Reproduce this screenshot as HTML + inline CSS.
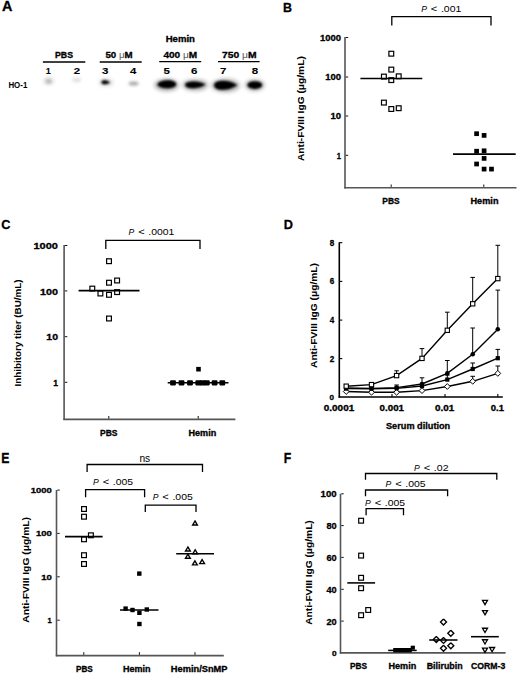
<!DOCTYPE html>
<html><head><meta charset="utf-8"><style>
html,body{margin:0;padding:0;background:#fff;}
body{width:520px;height:675px;overflow:hidden;}
svg{display:block;}
text{font-family:"Liberation Sans",sans-serif;}
</style></head><body>
<svg width="520" height="675" viewBox="0 0 520 675">
<rect width="520" height="675" fill="#fff"/>

<defs>
<filter id="b1" x="-100%" y="-150%" width="300%" height="400%"><feGaussianBlur stdDeviation="1.5"/></filter>
<filter id="b2" x="-50%" y="-80%" width="200%" height="260%"><feGaussianBlur stdDeviation="0.85"/></filter>
<filter id="b3" x="-100%" y="-150%" width="300%" height="400%"><feGaussianBlur stdDeviation="2.2"/></filter>
</defs>
<g>
<ellipse cx="48.6" cy="81.0" rx="4.4" ry="2.8" fill="#c0c0c0" filter="url(#b3)"/>
<ellipse cx="48.8" cy="81.6" rx="2.5" ry="1.5" fill="#b0b0b0" filter="url(#b1)"/>
<ellipse cx="76.6" cy="80.0" rx="4.5" ry="2.4" fill="#e2e2e2" filter="url(#b1)"/>
<ellipse cx="106.0" cy="82.3" rx="6.5" ry="3.0" fill="#999" opacity="0.6" filter="url(#b3)"/>
<path d="M101.4,82.2 C101.6,80.6 103.5,80.2 105,80.3 C107,80.5 108.5,81.5 110,82.4 C108.5,83.3 107,84.1 105,84.2 C103.3,84.2 101.3,83.7 101.4,82.2 Z" fill="#000" filter="url(#b2)"/>
<ellipse cx="133.6" cy="83.6" rx="5.0" ry="2.0" fill="#a8a8a8" filter="url(#b1)"/>
<g filter="url(#b3)" opacity="0.35">
<ellipse cx="166.6" cy="85" rx="12" ry="6" fill="#000"/>
<ellipse cx="195.2" cy="85" rx="12.5" ry="5.5" fill="#000"/>
<ellipse cx="225.6" cy="85.5" rx="14" ry="6.5" fill="#000"/>
<ellipse cx="254.8" cy="85.2" rx="9.5" ry="5.5" fill="#000"/>
</g>
<g filter="url(#b2)">
<path d="M157.2,84.6 C158.6,81.4 163.5,80.3 168,80.3 C173,80.3 176.2,82.2 176.2,84.3 C176.2,86.7 172.5,88.3 167,88.3 C162,88.3 158.6,87.2 157.2,84.6 Z" fill="#000"/>
<path d="M185.2,84.8 C185.2,82.3 189,81.4 194,81.4 C199,81.6 203,83 205.6,84.6 C203,86.4 199,88.1 194,88.3 C189,88.4 185.2,87.3 185.2,84.8 Z" fill="#000"/>
<path d="M214.2,85.2 C214.2,81.6 219,80.6 224,80.7 C230,81.0 234.5,83.2 237.3,85.0 C234.5,86.8 230,89.4 224,89.8 C219,90.1 214.2,88.8 214.2,85.2 Z" fill="#000"/>
<ellipse cx="254.8" cy="85.1" rx="7.4" ry="3.9" fill="#000"/>
</g>
</g>

<text x="2.10" y="11.20" font-size="13.81" font-weight="bold" fill="#000" stroke="#000" stroke-width="0.3" textLength="10.40" lengthAdjust="spacingAndGlyphs">A</text>
<text x="283.00" y="11.50" font-size="13.52" font-weight="bold" fill="#000" stroke="#000" stroke-width="0.3" textLength="9.00" lengthAdjust="spacingAndGlyphs">B</text>
<text x="1.30" y="228.80" font-size="13.52" font-weight="bold" fill="#000" stroke="#000" stroke-width="0.3" textLength="9.20" lengthAdjust="spacingAndGlyphs">C</text>
<text x="283.80" y="229.30" font-size="13.52" font-weight="bold" fill="#000" stroke="#000" stroke-width="0.3" textLength="9.20" lengthAdjust="spacingAndGlyphs">D</text>
<text x="1.30" y="463.30" font-size="13.81" font-weight="bold" fill="#000" stroke="#000" stroke-width="0.3" textLength="8.20" lengthAdjust="spacingAndGlyphs">E</text>
<text x="283.80" y="462.50" font-size="14.53" font-weight="bold" fill="#000" stroke="#000" stroke-width="0.3" textLength="7.50" lengthAdjust="spacingAndGlyphs">F</text>
<text x="165.70" y="42.00" font-size="8.14" font-weight="bold" fill="#000" stroke="#000" stroke-width="0.3" textLength="29.30" lengthAdjust="spacingAndGlyphs">Hemin</text>
<text x="55.00" y="58.00" font-size="8.72" font-weight="bold" fill="#000" stroke="#000" stroke-width="0.3" textLength="18.00" lengthAdjust="spacingAndGlyphs">PBS</text>
<text x="105.40" y="58.00" font-size="8.72" font-weight="bold" fill="#000" stroke="#000" stroke-width="0.3" textLength="27.20" lengthAdjust="spacingAndGlyphs">50 <tspan font-weight='normal' stroke-width='0' fill='#555'>&#956;</tspan>M</text>
<text x="163.40" y="58.20" font-size="8.72" font-weight="bold" fill="#000" stroke="#000" stroke-width="0.3" textLength="33.90" lengthAdjust="spacingAndGlyphs">400 <tspan font-weight='normal' stroke-width='0' fill='#555'>&#956;</tspan>M</text>
<text x="222.00" y="58.00" font-size="8.72" font-weight="bold" fill="#000" stroke="#000" stroke-width="0.3" textLength="34.60" lengthAdjust="spacingAndGlyphs">750 <tspan font-weight='normal' stroke-width='0' fill='#555'>&#956;</tspan>M</text>
<line x1="42.90" y1="62.00" x2="85.30" y2="62.00" stroke="#000" stroke-width="1.3"/>
<line x1="99.70" y1="62.00" x2="141.70" y2="62.00" stroke="#000" stroke-width="1.3"/>
<line x1="159.20" y1="61.70" x2="201.20" y2="61.70" stroke="#000" stroke-width="1.3"/>
<line x1="218.00" y1="61.70" x2="259.60" y2="61.70" stroke="#000" stroke-width="1.3"/>
<text x="45.75" y="74.40" font-size="9.01" font-weight="bold" fill="#000" stroke="#000" stroke-width="0.1" textLength="5.10" lengthAdjust="spacingAndGlyphs">1</text>
<text x="73.80" y="74.40" font-size="9.01" font-weight="bold" fill="#000" stroke="#000" stroke-width="0.1" textLength="6.40" lengthAdjust="spacingAndGlyphs">2</text>
<text x="102.00" y="74.40" font-size="9.01" font-weight="bold" fill="#000" stroke="#000" stroke-width="0.1" textLength="6.40" lengthAdjust="spacingAndGlyphs">3</text>
<text x="129.90" y="74.40" font-size="9.01" font-weight="bold" fill="#000" stroke="#000" stroke-width="0.1" textLength="6.40" lengthAdjust="spacingAndGlyphs">4</text>
<text x="163.40" y="74.40" font-size="9.01" font-weight="bold" fill="#000" stroke="#000" stroke-width="0.1" textLength="6.40" lengthAdjust="spacingAndGlyphs">5</text>
<text x="191.10" y="74.40" font-size="9.01" font-weight="bold" fill="#000" stroke="#000" stroke-width="0.1" textLength="6.40" lengthAdjust="spacingAndGlyphs">6</text>
<text x="220.00" y="74.40" font-size="9.01" font-weight="bold" fill="#000" stroke="#000" stroke-width="0.1" textLength="6.40" lengthAdjust="spacingAndGlyphs">7</text>
<text x="251.80" y="74.40" font-size="9.01" font-weight="bold" fill="#000" stroke="#000" stroke-width="0.1" textLength="6.40" lengthAdjust="spacingAndGlyphs">8</text>
<text x="8.40" y="87.60" font-size="8.58" font-weight="bold" fill="#000" stroke="#000" stroke-width="0.01" textLength="18.90" lengthAdjust="spacingAndGlyphs">HO-1</text>
<line x1="345.00" y1="37.00" x2="345.00" y2="188.40" stroke="#555" stroke-width="1.6"/>
<line x1="344.30" y1="187.70" x2="516.50" y2="187.70" stroke="#555" stroke-width="1.6"/>
<line x1="345.80" y1="37.50" x2="348.20" y2="37.50" stroke="#111" stroke-width="1.0"/>
<line x1="345.80" y1="77.00" x2="348.20" y2="77.00" stroke="#111" stroke-width="1.0"/>
<line x1="345.80" y1="116.00" x2="348.20" y2="116.00" stroke="#111" stroke-width="1.0"/>
<line x1="345.80" y1="155.30" x2="348.20" y2="155.30" stroke="#111" stroke-width="1.0"/>
<text x="320.00" y="40.80" font-size="8.14" font-weight="bold" fill="#000" stroke="#000" stroke-width="0.3" textLength="21.00" lengthAdjust="spacingAndGlyphs">1000</text>
<text x="325.20" y="80.30" font-size="8.14" font-weight="bold" fill="#000" stroke="#000" stroke-width="0.3" textLength="15.80" lengthAdjust="spacingAndGlyphs">100</text>
<text x="330.40" y="119.30" font-size="8.14" font-weight="bold" fill="#000" stroke="#000" stroke-width="0.3" textLength="10.60" lengthAdjust="spacingAndGlyphs">10</text>
<text x="336.80" y="158.60" font-size="8.14" font-weight="bold" fill="#000" stroke="#000" stroke-width="0.3" textLength="4.20" lengthAdjust="spacingAndGlyphs">1</text>
<line x1="391.20" y1="186.90" x2="391.20" y2="184.50" stroke="#111" stroke-width="1.0"/>
<line x1="483.80" y1="186.90" x2="483.80" y2="184.50" stroke="#111" stroke-width="1.0"/>
<text x="382.35" y="203.60" font-size="8.58" font-weight="bold" fill="#000" stroke="#000" stroke-width="0.3" textLength="17.30" lengthAdjust="spacingAndGlyphs">PBS</text>
<text x="470.50" y="203.60" font-size="8.58" font-weight="bold" fill="#000" stroke="#000" stroke-width="0.3" textLength="28.00" lengthAdjust="spacingAndGlyphs">Hemin</text>
<g transform="translate(303.90,108.60) rotate(-90)"><text x="-52.40" y="0" font-size="8.72" font-weight="bold" fill="#000" stroke="#000" stroke-width="0.05" textLength="104.80" lengthAdjust="spacingAndGlyphs">Anti-FVIII IgG (&#956;g/mL)</text></g>
<polyline points="391.80,25.50 391.80,16.60 491.00,16.60 491.00,25.50" stroke="#000" stroke-width="1.3" fill="none" stroke-linejoin="miter"/>
<text x="421.14" y="11.70" font-size="9.59" font-weight="normal" font-style="italic" fill="#000" textLength="5.72" lengthAdjust="spacingAndGlyphs">P</text>
<text x="430.86" y="11.80" font-size="8.14" font-weight="normal" fill="#000" stroke="#000" stroke-width="0.05" textLength="6.37" lengthAdjust="spacingAndGlyphs">&lt;</text>
<text x="440.94" y="11.70" font-size="9.59" font-weight="normal" fill="#000" textLength="20.42" lengthAdjust="spacingAndGlyphs">.001</text>
<rect x="388.90" y="51.30" width="4.8" height="4.8" fill="#fff" stroke="#000" stroke-width="1.2"/>
<rect x="388.90" y="67.20" width="4.8" height="4.8" fill="#fff" stroke="#000" stroke-width="1.2"/>
<rect x="381.50" y="74.20" width="4.8" height="4.8" fill="#fff" stroke="#000" stroke-width="1.2"/>
<rect x="388.90" y="77.70" width="4.8" height="4.8" fill="#fff" stroke="#000" stroke-width="1.2"/>
<rect x="396.30" y="73.90" width="4.8" height="4.8" fill="#fff" stroke="#000" stroke-width="1.2"/>
<rect x="381.50" y="100.20" width="4.8" height="4.8" fill="#fff" stroke="#000" stroke-width="1.2"/>
<rect x="388.90" y="106.60" width="4.8" height="4.8" fill="#fff" stroke="#000" stroke-width="1.2"/>
<rect x="396.30" y="105.80" width="4.8" height="4.8" fill="#fff" stroke="#000" stroke-width="1.2"/>
<line x1="360.40" y1="78.40" x2="422.30" y2="78.40" stroke="#000" stroke-width="1.55"/>
<rect x="474.25" y="131.35" width="4.7" height="4.7" fill="#000"/>
<rect x="481.75" y="133.05" width="4.7" height="4.7" fill="#000"/>
<rect x="474.25" y="148.85" width="4.7" height="4.7" fill="#000"/>
<rect x="481.75" y="148.45" width="4.7" height="4.7" fill="#000"/>
<rect x="481.75" y="156.05" width="4.7" height="4.7" fill="#000"/>
<rect x="474.25" y="161.65" width="4.7" height="4.7" fill="#000"/>
<rect x="481.75" y="166.75" width="4.7" height="4.7" fill="#000"/>
<rect x="489.15" y="166.75" width="4.7" height="4.7" fill="#000"/>
<line x1="453.00" y1="154.10" x2="515.70" y2="154.10" stroke="#000" stroke-width="1.55"/>
<line x1="64.10" y1="245.00" x2="64.10" y2="420.10" stroke="#555" stroke-width="1.6"/>
<line x1="63.40" y1="419.40" x2="235.40" y2="419.40" stroke="#555" stroke-width="1.6"/>
<line x1="64.90" y1="245.50" x2="67.30" y2="245.50" stroke="#111" stroke-width="1.0"/>
<text x="33.50" y="249.40" font-size="8.72" font-weight="bold" fill="#000" stroke="#000" stroke-width="0.3" textLength="24.50" lengthAdjust="spacingAndGlyphs">1000</text>
<line x1="64.90" y1="290.90" x2="67.30" y2="290.90" stroke="#111" stroke-width="1.0"/>
<text x="40.00" y="294.90" font-size="8.72" font-weight="bold" fill="#000" stroke="#000" stroke-width="0.3" textLength="18.00" lengthAdjust="spacingAndGlyphs">100</text>
<line x1="64.90" y1="336.70" x2="67.30" y2="336.70" stroke="#111" stroke-width="1.0"/>
<text x="46.30" y="340.40" font-size="8.72" font-weight="bold" fill="#000" stroke="#000" stroke-width="0.3" textLength="11.70" lengthAdjust="spacingAndGlyphs">10</text>
<line x1="64.90" y1="382.30" x2="67.30" y2="382.30" stroke="#111" stroke-width="1.0"/>
<text x="53.20" y="385.80" font-size="8.72" font-weight="bold" fill="#000" stroke="#000" stroke-width="0.3" textLength="4.80" lengthAdjust="spacingAndGlyphs">1</text>
<line x1="108.80" y1="418.60" x2="108.80" y2="416.00" stroke="#111" stroke-width="1.0"/>
<line x1="198.20" y1="418.60" x2="198.20" y2="416.00" stroke="#111" stroke-width="1.0"/>
<text x="100.05" y="435.80" font-size="8.43" font-weight="bold" fill="#000" stroke="#000" stroke-width="0.3" textLength="17.50" lengthAdjust="spacingAndGlyphs">PBS</text>
<text x="188.50" y="435.80" font-size="8.43" font-weight="bold" fill="#000" stroke="#000" stroke-width="0.3" textLength="27.80" lengthAdjust="spacingAndGlyphs">Hemin</text>
<g transform="translate(21.30,333.00) rotate(-90)"><text x="-53.50" y="0" font-size="8.43" font-weight="bold" fill="#000" stroke="#000" stroke-width="0.05" textLength="107.00" lengthAdjust="spacingAndGlyphs">Inhibitory titer (BU/mL)</text></g>
<polyline points="105.80,249.00 105.80,240.30 200.00,240.30 200.00,249.00" stroke="#000" stroke-width="1.3" fill="none" stroke-linejoin="miter"/>
<text x="128.44" y="234.80" font-size="9.59" font-weight="normal" font-style="italic" fill="#000" textLength="5.72" lengthAdjust="spacingAndGlyphs">P</text>
<text x="138.16" y="234.90" font-size="8.14" font-weight="normal" fill="#000" stroke="#000" stroke-width="0.05" textLength="6.37" lengthAdjust="spacingAndGlyphs">&lt;</text>
<text x="148.25" y="234.80" font-size="9.59" font-weight="normal" fill="#000" textLength="26.17" lengthAdjust="spacingAndGlyphs">.0001</text>
<rect x="106.60" y="258.80" width="4.8" height="4.8" fill="#fff" stroke="#000" stroke-width="1.2"/>
<rect x="106.60" y="280.30" width="4.8" height="4.8" fill="#fff" stroke="#000" stroke-width="1.2"/>
<rect x="114.70" y="278.10" width="4.8" height="4.8" fill="#fff" stroke="#000" stroke-width="1.2"/>
<rect x="89.90" y="286.20" width="4.8" height="4.8" fill="#fff" stroke="#000" stroke-width="1.2"/>
<rect x="98.00" y="291.10" width="4.8" height="4.8" fill="#fff" stroke="#000" stroke-width="1.2"/>
<rect x="106.60" y="292.40" width="4.8" height="4.8" fill="#fff" stroke="#000" stroke-width="1.2"/>
<rect x="114.70" y="289.70" width="4.8" height="4.8" fill="#fff" stroke="#000" stroke-width="1.2"/>
<rect x="106.60" y="316.10" width="4.8" height="4.8" fill="#fff" stroke="#000" stroke-width="1.2"/>
<line x1="78.60" y1="290.60" x2="139.50" y2="290.60" stroke="#000" stroke-width="1.55"/>
<rect x="196.20" y="366.90" width="4.6" height="4.6" fill="#000"/>
<line x1="167.70" y1="382.80" x2="228.50" y2="382.80" stroke="#000" stroke-width="1.55"/>
<rect x="170.10" y="380.20" width="5.8" height="5.2" rx="0.8" fill="#000"/>
<rect x="178.60" y="380.20" width="5.8" height="5.2" rx="0.8" fill="#000"/>
<rect x="187.10" y="380.20" width="5.8" height="5.2" rx="0.8" fill="#000"/>
<rect x="195.40" y="380.20" width="5.8" height="5.2" rx="0.8" fill="#000"/>
<rect x="199.60" y="380.20" width="5.8" height="5.2" rx="0.8" fill="#000"/>
<rect x="203.90" y="380.20" width="5.8" height="5.2" rx="0.8" fill="#000"/>
<rect x="211.70" y="380.20" width="5.8" height="5.2" rx="0.8" fill="#000"/>
<rect x="219.40" y="380.20" width="5.8" height="5.2" rx="0.8" fill="#000"/>
<line x1="339.30" y1="242.30" x2="339.30" y2="397.70" stroke="#000" stroke-width="1.6"/>
<line x1="338.60" y1="397.00" x2="502.80" y2="397.00" stroke="#000" stroke-width="1.6"/>
<line x1="339.30" y1="242.70" x2="342.30" y2="242.70" stroke="#000" stroke-width="1.1"/>
<text x="329.80" y="245.60" font-size="8.43" font-weight="bold" fill="#000" stroke="#000" stroke-width="0.3" textLength="4.50" lengthAdjust="spacingAndGlyphs">8</text>
<line x1="339.30" y1="281.40" x2="342.30" y2="281.40" stroke="#000" stroke-width="1.1"/>
<text x="329.80" y="284.30" font-size="8.43" font-weight="bold" fill="#000" stroke="#000" stroke-width="0.3" textLength="4.50" lengthAdjust="spacingAndGlyphs">6</text>
<line x1="339.30" y1="320.10" x2="342.30" y2="320.10" stroke="#000" stroke-width="1.1"/>
<text x="329.80" y="323.00" font-size="8.43" font-weight="bold" fill="#000" stroke="#000" stroke-width="0.3" textLength="4.50" lengthAdjust="spacingAndGlyphs">4</text>
<line x1="339.30" y1="358.60" x2="342.30" y2="358.60" stroke="#000" stroke-width="1.1"/>
<text x="329.80" y="361.50" font-size="8.43" font-weight="bold" fill="#000" stroke="#000" stroke-width="0.3" textLength="4.50" lengthAdjust="spacingAndGlyphs">2</text>
<text x="329.50" y="400.00" font-size="7.56" font-weight="bold" fill="#000" stroke="#000" stroke-width="0.3" textLength="4.50" lengthAdjust="spacingAndGlyphs">0</text>
<line x1="392.00" y1="397.00" x2="392.00" y2="394.00" stroke="#000" stroke-width="1.1"/>
<line x1="445.00" y1="397.00" x2="445.00" y2="394.00" stroke="#000" stroke-width="1.1"/>
<line x1="497.80" y1="397.00" x2="497.80" y2="394.00" stroke="#000" stroke-width="1.1"/>
<text x="323.80" y="410.80" font-size="8.14" font-weight="bold" fill="#000" stroke="#000" stroke-width="0.3" textLength="30.40" lengthAdjust="spacingAndGlyphs">0.0001</text>
<text x="379.60" y="410.80" font-size="8.14" font-weight="bold" fill="#000" stroke="#000" stroke-width="0.3" textLength="24.40" lengthAdjust="spacingAndGlyphs">0.001</text>
<text x="435.00" y="410.80" font-size="8.14" font-weight="bold" fill="#000" stroke="#000" stroke-width="0.3" textLength="19.20" lengthAdjust="spacingAndGlyphs">0.01</text>
<text x="490.80" y="410.80" font-size="8.14" font-weight="bold" fill="#000" stroke="#000" stroke-width="0.3" textLength="13.20" lengthAdjust="spacingAndGlyphs">0.1</text>
<text x="386.00" y="428.60" font-size="9.01" font-weight="bold" fill="#000" stroke="#000" stroke-width="0.3" textLength="64.20" lengthAdjust="spacingAndGlyphs">Serum dilution</text>
<g transform="translate(316.95,315.50) rotate(-90)"><text x="-52.50" y="0" font-size="8.58" font-weight="bold" fill="#000" stroke="#000" stroke-width="0.05" textLength="105.00" lengthAdjust="spacingAndGlyphs">Anti-FVIII IgG (&#956;g/mL)</text></g>
<line x1="396.60" y1="375.60" x2="396.60" y2="370.80" stroke="#000" stroke-width="1.0"/>
<line x1="394.30" y1="370.80" x2="398.90" y2="370.80" stroke="#000" stroke-width="1.0"/>
<line x1="422.00" y1="358.40" x2="422.00" y2="348.60" stroke="#000" stroke-width="1.0"/>
<line x1="419.70" y1="348.60" x2="424.30" y2="348.60" stroke="#000" stroke-width="1.0"/>
<line x1="447.30" y1="330.30" x2="447.30" y2="312.20" stroke="#000" stroke-width="1.0"/>
<line x1="445.00" y1="312.20" x2="449.60" y2="312.20" stroke="#000" stroke-width="1.0"/>
<line x1="472.70" y1="303.80" x2="472.70" y2="277.40" stroke="#000" stroke-width="1.0"/>
<line x1="470.40" y1="277.40" x2="475.00" y2="277.40" stroke="#000" stroke-width="1.0"/>
<line x1="497.80" y1="278.60" x2="497.80" y2="245.30" stroke="#000" stroke-width="1.0"/>
<line x1="495.50" y1="245.30" x2="500.10" y2="245.30" stroke="#000" stroke-width="1.0"/>
<line x1="396.60" y1="387.60" x2="396.60" y2="385.00" stroke="#000" stroke-width="1.0"/>
<line x1="394.30" y1="385.00" x2="398.90" y2="385.00" stroke="#000" stroke-width="1.0"/>
<line x1="422.00" y1="384.00" x2="422.00" y2="377.80" stroke="#000" stroke-width="1.0"/>
<line x1="419.70" y1="377.80" x2="424.30" y2="377.80" stroke="#000" stroke-width="1.0"/>
<line x1="447.30" y1="373.40" x2="447.30" y2="360.50" stroke="#000" stroke-width="1.0"/>
<line x1="445.00" y1="360.50" x2="449.60" y2="360.50" stroke="#000" stroke-width="1.0"/>
<line x1="472.70" y1="354.30" x2="472.70" y2="328.00" stroke="#000" stroke-width="1.0"/>
<line x1="470.40" y1="328.00" x2="475.00" y2="328.00" stroke="#000" stroke-width="1.0"/>
<line x1="497.80" y1="329.30" x2="497.80" y2="290.10" stroke="#000" stroke-width="1.0"/>
<line x1="495.50" y1="290.10" x2="500.10" y2="290.10" stroke="#000" stroke-width="1.0"/>
<line x1="447.30" y1="379.60" x2="447.30" y2="375.00" stroke="#000" stroke-width="1.0"/>
<line x1="445.00" y1="375.00" x2="449.60" y2="375.00" stroke="#000" stroke-width="1.0"/>
<line x1="472.70" y1="369.00" x2="472.70" y2="363.00" stroke="#000" stroke-width="1.0"/>
<line x1="470.40" y1="363.00" x2="475.00" y2="363.00" stroke="#000" stroke-width="1.0"/>
<line x1="497.80" y1="358.20" x2="497.80" y2="349.40" stroke="#000" stroke-width="1.0"/>
<line x1="495.50" y1="349.40" x2="500.10" y2="349.40" stroke="#000" stroke-width="1.0"/>
<line x1="472.70" y1="381.30" x2="472.70" y2="376.30" stroke="#000" stroke-width="1.0"/>
<line x1="470.40" y1="376.30" x2="475.00" y2="376.30" stroke="#000" stroke-width="1.0"/>
<line x1="497.80" y1="373.40" x2="497.80" y2="366.00" stroke="#000" stroke-width="1.0"/>
<line x1="495.50" y1="366.00" x2="500.10" y2="366.00" stroke="#000" stroke-width="1.0"/>
<polyline points="346.20,391.50 371.50,392.30 396.60,392.30 422.00,390.60 447.30,386.50 472.70,381.30 497.80,373.40" stroke="#000" stroke-width="1.4" fill="none" stroke-linejoin="miter"/>
<polyline points="346.20,388.60 371.50,388.80 396.60,388.40 422.00,386.00 447.30,379.60 472.70,369.00 497.80,358.20" stroke="#000" stroke-width="1.4" fill="none" stroke-linejoin="miter"/>
<polyline points="346.20,388.00 371.50,388.40 396.60,387.60 422.00,384.00 447.30,373.40 472.70,354.30 497.80,329.30" stroke="#000" stroke-width="1.4" fill="none" stroke-linejoin="miter"/>
<polyline points="346.20,386.20 371.50,384.60 396.60,375.60 422.00,358.40 447.30,330.30 472.70,303.80 497.80,278.60" stroke="#000" stroke-width="1.4" fill="none" stroke-linejoin="miter"/>
<polyline points="346.20,388.60 349.10,391.50 346.20,394.40 343.30,391.50 346.20,388.60" stroke="#000" stroke-width="1.0" fill="#fff" stroke-linejoin="miter"/>
<polyline points="371.50,389.40 374.40,392.30 371.50,395.20 368.60,392.30 371.50,389.40" stroke="#000" stroke-width="1.0" fill="#fff" stroke-linejoin="miter"/>
<polyline points="396.60,389.40 399.50,392.30 396.60,395.20 393.70,392.30 396.60,389.40" stroke="#000" stroke-width="1.0" fill="#fff" stroke-linejoin="miter"/>
<polyline points="422.00,387.70 424.90,390.60 422.00,393.50 419.10,390.60 422.00,387.70" stroke="#000" stroke-width="1.0" fill="#fff" stroke-linejoin="miter"/>
<polyline points="447.30,383.60 450.20,386.50 447.30,389.40 444.40,386.50 447.30,383.60" stroke="#000" stroke-width="1.0" fill="#fff" stroke-linejoin="miter"/>
<polyline points="472.70,378.40 475.60,381.30 472.70,384.20 469.80,381.30 472.70,378.40" stroke="#000" stroke-width="1.0" fill="#fff" stroke-linejoin="miter"/>
<polyline points="497.80,370.50 500.70,373.40 497.80,376.30 494.90,373.40 497.80,370.50" stroke="#000" stroke-width="1.0" fill="#fff" stroke-linejoin="miter"/>
<rect x="344.10" y="386.50" width="4.2" height="4.2" fill="#000"/>
<rect x="369.40" y="386.70" width="4.2" height="4.2" fill="#000"/>
<rect x="394.50" y="386.30" width="4.2" height="4.2" fill="#000"/>
<rect x="419.90" y="383.90" width="4.2" height="4.2" fill="#000"/>
<rect x="445.20" y="377.50" width="4.2" height="4.2" fill="#000"/>
<rect x="470.60" y="366.90" width="4.2" height="4.2" fill="#000"/>
<rect x="495.70" y="356.10" width="4.2" height="4.2" fill="#000"/>
<circle cx="346.20" cy="388.00" r="2.3" fill="#000"/>
<circle cx="371.50" cy="388.40" r="2.3" fill="#000"/>
<circle cx="396.60" cy="387.60" r="2.3" fill="#000"/>
<circle cx="422.00" cy="384.00" r="2.3" fill="#000"/>
<circle cx="447.30" cy="373.40" r="2.3" fill="#000"/>
<circle cx="472.70" cy="354.30" r="2.3" fill="#000"/>
<circle cx="497.80" cy="329.30" r="2.3" fill="#000"/>
<rect x="344.05" y="384.05" width="4.3" height="4.3" fill="#fff" stroke="#000" stroke-width="1.1"/>
<rect x="369.35" y="382.45" width="4.3" height="4.3" fill="#fff" stroke="#000" stroke-width="1.1"/>
<rect x="394.45" y="373.45" width="4.3" height="4.3" fill="#fff" stroke="#000" stroke-width="1.1"/>
<rect x="419.85" y="356.25" width="4.3" height="4.3" fill="#fff" stroke="#000" stroke-width="1.1"/>
<rect x="445.15" y="328.15" width="4.3" height="4.3" fill="#fff" stroke="#000" stroke-width="1.1"/>
<rect x="470.55" y="301.65" width="4.3" height="4.3" fill="#fff" stroke="#000" stroke-width="1.1"/>
<rect x="495.65" y="276.45" width="4.3" height="4.3" fill="#fff" stroke="#000" stroke-width="1.1"/>
<line x1="56.50" y1="490.00" x2="56.50" y2="656.30" stroke="#555" stroke-width="1.6"/>
<line x1="55.80" y1="655.60" x2="223.80" y2="655.60" stroke="#555" stroke-width="1.6"/>
<line x1="57.30" y1="490.10" x2="59.70" y2="490.10" stroke="#111" stroke-width="1.0"/>
<text x="30.80" y="492.95" font-size="7.85" font-weight="bold" fill="#000" stroke="#000" stroke-width="0.3" textLength="21.00" lengthAdjust="spacingAndGlyphs">1000</text>
<line x1="57.30" y1="533.40" x2="59.70" y2="533.40" stroke="#111" stroke-width="1.0"/>
<text x="36.00" y="536.25" font-size="7.85" font-weight="bold" fill="#000" stroke="#000" stroke-width="0.3" textLength="15.80" lengthAdjust="spacingAndGlyphs">100</text>
<line x1="57.30" y1="576.80" x2="59.70" y2="576.80" stroke="#111" stroke-width="1.0"/>
<text x="41.20" y="579.65" font-size="7.85" font-weight="bold" fill="#000" stroke="#000" stroke-width="0.3" textLength="10.60" lengthAdjust="spacingAndGlyphs">10</text>
<line x1="57.30" y1="620.20" x2="59.70" y2="620.20" stroke="#111" stroke-width="1.0"/>
<text x="47.60" y="623.05" font-size="7.85" font-weight="bold" fill="#000" stroke="#000" stroke-width="0.3" textLength="4.20" lengthAdjust="spacingAndGlyphs">1</text>
<line x1="83.80" y1="654.80" x2="83.80" y2="652.20" stroke="#111" stroke-width="1.0"/>
<line x1="139.40" y1="654.80" x2="139.40" y2="652.20" stroke="#111" stroke-width="1.0"/>
<line x1="195.00" y1="654.80" x2="195.00" y2="652.20" stroke="#111" stroke-width="1.0"/>
<text x="76.00" y="672.00" font-size="8.14" font-weight="bold" fill="#000" stroke="#000" stroke-width="0.3" textLength="16.80" lengthAdjust="spacingAndGlyphs">PBS</text>
<text x="123.00" y="672.00" font-size="8.14" font-weight="bold" fill="#000" stroke="#000" stroke-width="0.3" textLength="27.60" lengthAdjust="spacingAndGlyphs">Hemin</text>
<text x="170.80" y="672.00" font-size="8.14" font-weight="bold" fill="#000" stroke="#000" stroke-width="0.3" textLength="56.70" lengthAdjust="spacingAndGlyphs">Hemin/SnMP</text>
<g transform="translate(28.90,569.90) rotate(-90)"><text x="-52.90" y="0" font-size="8.43" font-weight="bold" fill="#000" stroke="#000" stroke-width="0.05" textLength="105.80" lengthAdjust="spacingAndGlyphs">Anti-FVIII IgG (&#956;g/mL)</text></g>
<text x="139.4" y="461.9" font-size="11.3" fill="#000" textLength="10.8" lengthAdjust="spacingAndGlyphs">ns</text>
<polyline points="87.10,472.00 87.10,464.50 202.50,464.50 202.50,472.00" stroke="#000" stroke-width="1.3" fill="none" stroke-linejoin="miter"/>
<text x="92.94" y="484.90" font-size="9.59" font-weight="normal" font-style="italic" fill="#000" textLength="5.72" lengthAdjust="spacingAndGlyphs">P</text>
<text x="102.66" y="485.00" font-size="8.14" font-weight="normal" fill="#000" stroke="#000" stroke-width="0.05" textLength="6.37" lengthAdjust="spacingAndGlyphs">&lt;</text>
<text x="112.75" y="484.90" font-size="9.59" font-weight="normal" fill="#000" textLength="20.34" lengthAdjust="spacingAndGlyphs">.005</text>
<polyline points="85.60,497.30 85.60,489.70 144.60,489.70 144.60,497.30" stroke="#000" stroke-width="1.3" fill="none" stroke-linejoin="miter"/>
<text x="152.64" y="500.30" font-size="9.59" font-weight="normal" font-style="italic" fill="#000" textLength="5.72" lengthAdjust="spacingAndGlyphs">P</text>
<text x="162.36" y="500.40" font-size="8.14" font-weight="normal" fill="#000" stroke="#000" stroke-width="0.05" textLength="6.37" lengthAdjust="spacingAndGlyphs">&lt;</text>
<text x="172.45" y="500.30" font-size="9.59" font-weight="normal" fill="#000" textLength="20.34" lengthAdjust="spacingAndGlyphs">.005</text>
<polyline points="145.30,512.10 145.30,505.10 196.00,505.10 196.00,512.10" stroke="#000" stroke-width="1.3" fill="none" stroke-linejoin="miter"/>
<rect x="81.60" y="506.60" width="4.8" height="4.8" fill="#fff" stroke="#000" stroke-width="1.2"/>
<rect x="81.60" y="514.30" width="4.8" height="4.8" fill="#fff" stroke="#000" stroke-width="1.2"/>
<rect x="88.50" y="532.90" width="4.8" height="4.8" fill="#fff" stroke="#000" stroke-width="1.2"/>
<rect x="81.60" y="536.90" width="4.8" height="4.8" fill="#fff" stroke="#000" stroke-width="1.2"/>
<rect x="81.60" y="552.80" width="4.8" height="4.8" fill="#fff" stroke="#000" stroke-width="1.2"/>
<rect x="81.60" y="561.60" width="4.8" height="4.8" fill="#fff" stroke="#000" stroke-width="1.2"/>
<line x1="65.00" y1="536.60" x2="102.60" y2="536.60" stroke="#000" stroke-width="1.55"/>
<rect x="137.10" y="571.40" width="4.4" height="4.4" fill="#000"/>
<rect x="123.40" y="606.40" width="4.4" height="4.4" fill="#000"/>
<rect x="130.30" y="607.80" width="4.4" height="4.4" fill="#000"/>
<rect x="137.20" y="610.60" width="4.4" height="4.4" fill="#000"/>
<rect x="144.60" y="607.30" width="4.4" height="4.4" fill="#000"/>
<rect x="137.20" y="621.80" width="4.4" height="4.4" fill="#000"/>
<line x1="120.00" y1="610.00" x2="158.50" y2="610.00" stroke="#000" stroke-width="1.55"/>
<polygon points="195.00,520.96 197.40,525.04 192.60,525.04" fill="#fff" stroke="#000" stroke-width="1.35" stroke-linejoin="miter"/>
<polygon points="187.90,546.96 190.30,551.04 185.50,551.04" fill="#fff" stroke="#000" stroke-width="1.35" stroke-linejoin="miter"/>
<polygon points="195.20,549.76 197.60,553.84 192.80,553.84" fill="#fff" stroke="#000" stroke-width="1.35" stroke-linejoin="miter"/>
<polygon points="187.90,554.16 190.30,558.24 185.50,558.24" fill="#fff" stroke="#000" stroke-width="1.35" stroke-linejoin="miter"/>
<polygon points="194.90,560.86 197.30,564.94 192.50,564.94" fill="#fff" stroke="#000" stroke-width="1.35" stroke-linejoin="miter"/>
<polygon points="202.10,559.56 204.50,563.64 199.70,563.64" fill="#fff" stroke="#000" stroke-width="1.35" stroke-linejoin="miter"/>
<line x1="176.20" y1="553.80" x2="214.00" y2="553.80" stroke="#000" stroke-width="1.55"/>
<line x1="340.50" y1="493.70" x2="340.50" y2="653.60" stroke="#555" stroke-width="1.6"/>
<line x1="339.80" y1="652.90" x2="505.60" y2="652.90" stroke="#555" stroke-width="1.6"/>
<line x1="341.30" y1="493.80" x2="343.70" y2="493.80" stroke="#111" stroke-width="1.0"/>
<text x="320.60" y="496.60" font-size="8.14" font-weight="bold" fill="#000" stroke="#000" stroke-width="0.3" textLength="16.00" lengthAdjust="spacingAndGlyphs">100</text>
<line x1="341.30" y1="525.60" x2="343.70" y2="525.60" stroke="#111" stroke-width="1.0"/>
<text x="326.40" y="529.10" font-size="8.14" font-weight="bold" fill="#000" stroke="#000" stroke-width="0.3" textLength="10.20" lengthAdjust="spacingAndGlyphs">80</text>
<line x1="341.30" y1="557.40" x2="343.70" y2="557.40" stroke="#111" stroke-width="1.0"/>
<text x="326.40" y="560.90" font-size="8.14" font-weight="bold" fill="#000" stroke="#000" stroke-width="0.3" textLength="10.20" lengthAdjust="spacingAndGlyphs">60</text>
<line x1="341.30" y1="589.30" x2="343.70" y2="589.30" stroke="#111" stroke-width="1.0"/>
<text x="326.40" y="592.80" font-size="8.14" font-weight="bold" fill="#000" stroke="#000" stroke-width="0.3" textLength="10.20" lengthAdjust="spacingAndGlyphs">40</text>
<line x1="341.30" y1="621.10" x2="343.70" y2="621.10" stroke="#111" stroke-width="1.0"/>
<text x="326.40" y="624.60" font-size="8.14" font-weight="bold" fill="#000" stroke="#000" stroke-width="0.3" textLength="10.20" lengthAdjust="spacingAndGlyphs">20</text>
<text x="332.00" y="655.60" font-size="7.27" font-weight="bold" fill="#000" stroke="#000" stroke-width="0.3" textLength="4.60" lengthAdjust="spacingAndGlyphs">0</text>
<text x="350.05" y="668.90" font-size="8.43" font-weight="bold" fill="#000" stroke="#000" stroke-width="0.3" textLength="17.10" lengthAdjust="spacingAndGlyphs">PBS</text>
<text x="388.50" y="668.90" font-size="8.43" font-weight="bold" fill="#000" stroke="#000" stroke-width="0.3" textLength="27.80" lengthAdjust="spacingAndGlyphs">Hemin</text>
<text x="426.70" y="668.90" font-size="8.43" font-weight="bold" fill="#000" stroke="#000" stroke-width="0.3" textLength="36.00" lengthAdjust="spacingAndGlyphs">Bilirubin</text>
<text x="471.00" y="668.90" font-size="8.43" font-weight="bold" fill="#000" stroke="#000" stroke-width="0.3" textLength="34.20" lengthAdjust="spacingAndGlyphs">CORM-3</text>
<g transform="translate(311.75,572.50) rotate(-90)"><text x="-52.25" y="0" font-size="8.58" font-weight="bold" fill="#000" stroke="#000" stroke-width="0.05" textLength="104.50" lengthAdjust="spacingAndGlyphs">Anti-FVIII IgG (&#956;g/mL)</text></g>
<text x="414.04" y="470.90" font-size="9.59" font-weight="normal" font-style="italic" fill="#000" textLength="5.72" lengthAdjust="spacingAndGlyphs">P</text>
<text x="423.76" y="471.00" font-size="8.14" font-weight="normal" fill="#000" stroke="#000" stroke-width="0.05" textLength="6.37" lengthAdjust="spacingAndGlyphs">&lt;</text>
<text x="433.83" y="470.90" font-size="9.59" font-weight="normal" fill="#000" textLength="14.70" lengthAdjust="spacingAndGlyphs">.02</text>
<polyline points="365.50,479.80 365.50,473.50 496.80,473.50 496.80,479.80" stroke="#000" stroke-width="1.3" fill="none" stroke-linejoin="miter"/>
<text x="385.54" y="487.30" font-size="9.59" font-weight="normal" font-style="italic" fill="#000" textLength="5.72" lengthAdjust="spacingAndGlyphs">P</text>
<text x="395.26" y="487.40" font-size="8.14" font-weight="normal" fill="#000" stroke="#000" stroke-width="0.05" textLength="6.37" lengthAdjust="spacingAndGlyphs">&lt;</text>
<text x="405.35" y="487.30" font-size="9.59" font-weight="normal" fill="#000" textLength="20.34" lengthAdjust="spacingAndGlyphs">.005</text>
<polyline points="365.50,496.30 365.50,490.00 447.60,490.00 447.60,496.30" stroke="#000" stroke-width="1.3" fill="none" stroke-linejoin="miter"/>
<text x="364.94" y="505.80" font-size="9.59" font-weight="normal" font-style="italic" fill="#000" textLength="5.72" lengthAdjust="spacingAndGlyphs">P</text>
<text x="374.66" y="505.90" font-size="8.14" font-weight="normal" fill="#000" stroke="#000" stroke-width="0.05" textLength="6.37" lengthAdjust="spacingAndGlyphs">&lt;</text>
<text x="384.75" y="505.80" font-size="9.59" font-weight="normal" fill="#000" textLength="20.34" lengthAdjust="spacingAndGlyphs">.005</text>
<polyline points="366.10,515.30 366.10,508.60 403.50,508.60 403.50,515.30" stroke="#000" stroke-width="1.3" fill="none" stroke-linejoin="miter"/>
<rect x="358.70" y="518.30" width="4.8" height="4.8" fill="#fff" stroke="#000" stroke-width="1.2"/>
<rect x="358.70" y="553.20" width="4.8" height="4.8" fill="#fff" stroke="#000" stroke-width="1.2"/>
<rect x="358.70" y="575.40" width="4.8" height="4.8" fill="#fff" stroke="#000" stroke-width="1.2"/>
<rect x="358.70" y="585.80" width="4.8" height="4.8" fill="#fff" stroke="#000" stroke-width="1.2"/>
<rect x="365.80" y="607.60" width="4.8" height="4.8" fill="#fff" stroke="#000" stroke-width="1.2"/>
<rect x="358.70" y="612.80" width="4.8" height="4.8" fill="#fff" stroke="#000" stroke-width="1.2"/>
<line x1="347.30" y1="582.90" x2="375.10" y2="582.90" stroke="#000" stroke-width="1.55"/>
<line x1="388.20" y1="650.40" x2="416.70" y2="650.40" stroke="#000" stroke-width="1.55"/>
<rect x="393.2" y="648.0" width="18.6" height="4.4" fill="#000"/>
<rect x="410.7" y="645.7" width="4.2" height="4.0" fill="#000"/>
<polyline points="443.50,619.10 446.50,622.10 443.50,625.10 440.50,622.10 443.50,619.10" stroke="#000" stroke-width="1.35" fill="#fff" stroke-linejoin="miter"/>
<polyline points="450.80,630.30 453.80,633.30 450.80,636.30 447.80,633.30 450.80,630.30" stroke="#000" stroke-width="1.35" fill="#fff" stroke-linejoin="miter"/>
<polyline points="436.30,636.60 439.30,639.60 436.30,642.60 433.30,639.60 436.30,636.60" stroke="#000" stroke-width="1.35" fill="#fff" stroke-linejoin="miter"/>
<polyline points="443.50,637.40 446.50,640.40 443.50,643.40 440.50,640.40 443.50,637.40" stroke="#000" stroke-width="1.35" fill="#fff" stroke-linejoin="miter"/>
<polyline points="450.80,642.80 453.80,645.80 450.80,648.80 447.80,645.80 450.80,642.80" stroke="#000" stroke-width="1.35" fill="#fff" stroke-linejoin="miter"/>
<polyline points="443.50,645.30 446.50,648.30 443.50,651.30 440.50,648.30 443.50,645.30" stroke="#000" stroke-width="1.35" fill="#fff" stroke-linejoin="miter"/>
<line x1="429.20" y1="640.00" x2="457.50" y2="640.00" stroke="#000" stroke-width="1.55"/>
<polygon points="485.00,604.62 487.50,600.38 482.50,600.38" fill="#fff" stroke="#000" stroke-width="1.3" stroke-linejoin="miter"/>
<polygon points="485.00,614.83 487.50,610.58 482.50,610.58" fill="#fff" stroke="#000" stroke-width="1.3" stroke-linejoin="miter"/>
<polygon points="485.00,632.52 487.50,628.27 482.50,628.27" fill="#fff" stroke="#000" stroke-width="1.3" stroke-linejoin="miter"/>
<polygon points="485.00,644.02 487.50,639.77 482.50,639.77" fill="#fff" stroke="#000" stroke-width="1.3" stroke-linejoin="miter"/>
<polygon points="485.00,652.42 487.50,648.17 482.50,648.17" fill="#fff" stroke="#000" stroke-width="1.3" stroke-linejoin="miter"/>
<polygon points="492.10,651.73 494.60,647.48 489.60,647.48" fill="#fff" stroke="#000" stroke-width="1.3" stroke-linejoin="miter"/>
<line x1="471.00" y1="636.70" x2="498.80" y2="636.70" stroke="#000" stroke-width="1.55"/>
</svg>
</body></html>
